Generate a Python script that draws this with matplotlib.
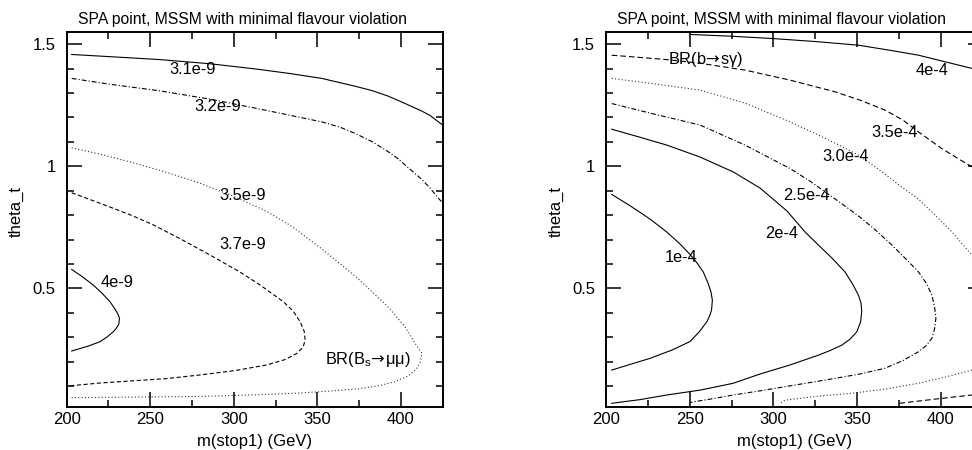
import numpy as np
import matplotlib
matplotlib.use('Agg')
import matplotlib.pyplot as plt
from matplotlib.ticker import MultipleLocator

plt.rcParams['font.family'] = ['Liberation Sans', 'DejaVu Sans']
plt.rcParams['mathtext.fontset'] = 'custom'
plt.rcParams['mathtext.rm'] = 'Liberation Sans'
plt.rcParams['lines.scale_dashes'] = False

# ---- BR(Bs -> mu mu) contours (m_stop1 [GeV], theta_t) ----
bs31_m = [203.0, 225.9, 255.9, 285.8, 313.8, 333.6, 352.7, 372.6, 382.8, 392.6, 402.6, 412.6, 417.5, 422.5, 425.1]
bs31_t = [1.458, 1.449, 1.437, 1.420, 1.398, 1.380, 1.360, 1.328, 1.310, 1.287, 1.257, 1.226, 1.208, 1.182, 1.169]

bs32_m = [203.0, 225.9, 255.9, 285.8, 313.8, 333.7, 352.7, 363.7, 372.6, 382.8, 392.6, 397.8,
          402.6, 407.4, 412.6, 417.5, 422.5, 425.1]
bs32_t = [1.360, 1.336, 1.309, 1.275, 1.237, 1.209, 1.182, 1.160, 1.135, 1.101, 1.059, 1.034,
          1.005, 0.977, 0.946, 0.911, 0.869, 0.850]

bs35_m = [203.0, 219.9, 239.7, 259.5, 279.8, 299.6, 319.3, 333.7, 352.9, 372.6, 392.4, 402.6, 408.0,
          412.6, 411.6, 409.2, 404.4, 396.6, 387.6, 375.6, 359.5, 339.7, 309.8, 279.8, 249.9, 203.0]
bs35_t = [1.076, 1.050, 1.015, 0.976, 0.931, 0.878, 0.817, 0.759, 0.661, 0.551, 0.424, 0.342, 0.281,
          0.234, 0.199, 0.170, 0.142, 0.119, 0.103, 0.090, 0.081, 0.072, 0.064, 0.058, 0.056, 0.053]

bs37_m = [203.0, 219.9, 237.9, 251.7, 267.8, 285.8, 303.8, 315.8, 329.6, 335.5, 339.7, 342.1, 342.7,
          341.5, 337.7, 330.7, 319.8, 300.8, 279.8, 259.5, 239.9, 219.9, 201.0]
bs37_t = [0.892, 0.849, 0.802, 0.761, 0.704, 0.637, 0.567, 0.514, 0.446, 0.408, 0.364, 0.326, 0.289,
          0.260, 0.234, 0.209, 0.187, 0.164, 0.146, 0.131, 0.122, 0.113, 0.101]

bs40_m = [203.0, 209.2, 215.9, 221.1, 225.9, 228.9, 230.7, 231.6, 231.2, 229.8, 227.9, 224.1, 219.9, 212.8, 203.0]
bs40_t = [0.578, 0.549, 0.514, 0.481, 0.446, 0.416, 0.395, 0.378, 0.354, 0.338, 0.323, 0.301, 0.282, 0.264, 0.244]

# ---- BR(b -> s gamma) contours ----
bsg40_m = [249.8, 274.1, 299.9, 324.9, 350.7, 369.7, 386.6, 402.5, 418.5, 425.0]
bsg40_t = [1.540, 1.533, 1.523, 1.511, 1.496, 1.475, 1.455, 1.428, 1.401, 1.386]

bsg35_m = [203.4, 236.3, 256.2, 283.0, 309.9, 336.8, 351.7, 366.7, 377.4, 386.6, 393.5, 400.5, 409.7, 418.5, 425.0]
bsg35_t = [1.455, 1.437, 1.422, 1.394, 1.353, 1.305, 1.271, 1.230, 1.189, 1.141, 1.107, 1.073, 1.034, 0.998, 0.970]
bsg35b_m = [375.2, 396.5, 418.5, 425.0]
bsg35b_t = [0.030, 0.047, 0.064, 0.068]

bsg30_m = [203.4, 226.3, 256.2, 283.0, 309.9, 326.8, 339.8, 350.7, 358.9, 366.7, 375.4, 386.6,
           398.5, 406.5, 418.5, 425.0]
bsg30_t = [1.360, 1.340, 1.312, 1.259, 1.182, 1.128, 1.085, 1.046, 1.007, 0.968, 0.921, 0.866,
           0.787, 0.732, 0.637, 0.580]
bsg30b_m = [304.5, 306.9, 327.8, 346.8, 366.7, 386.6, 402.5, 418.5, 425.0]
bsg30b_t = [0.032, 0.043, 0.060, 0.071, 0.088, 0.112, 0.137, 0.166, 0.180]

bsg25_m = [203.4, 226.3, 256.2, 283.0, 309.9, 321.9, 332.8, 342.8, 351.7, 361.3, 370.7, 379.2, 386.6,
           391.2, 394.6, 396.2, 397.0, 396.2, 394.6, 391.2, 386.6, 377.4, 366.4, 351.7, 336.8, 321.9,
           306.9, 292.0, 276.0, 262.1, 252.2, 249.8]
bsg25_t = [1.257, 1.218, 1.169, 1.087, 0.991, 0.939, 0.886, 0.837, 0.792, 0.737, 0.678, 0.620, 0.568,
           0.522, 0.473, 0.424, 0.378, 0.334, 0.296, 0.266, 0.241, 0.205, 0.173, 0.150, 0.132, 0.115,
           0.098, 0.081, 0.064, 0.047, 0.036, 0.032]

bsg20_m = [203.4, 220.3, 236.3, 256.2, 276.0, 292.0, 308.1, 318.9, 326.8, 335.0, 342.8, 347.6, 350.7,
           352.3, 352.7, 352.0, 349.8, 345.8, 340.8, 333.8, 326.8, 309.9, 292.0, 276.0, 256.2, 236.3,
           220.3, 203.4]
bsg20_t = [1.152, 1.119, 1.087, 1.038, 0.977, 0.911, 0.817, 0.731, 0.678, 0.624, 0.567, 0.514, 0.473,
           0.440, 0.405, 0.363, 0.323, 0.293, 0.268, 0.246, 0.227, 0.187, 0.150, 0.112, 0.084, 0.064,
           0.045, 0.030]

bsg10_m = [203.4, 214.3, 226.3, 236.3, 244.2, 250.2, 254.4, 258.1, 260.9, 262.7, 263.5, 263.0, 261.8,
           260.2, 255.6, 250.2, 239.4, 226.3, 214.3, 203.4]
bsg10_t = [0.885, 0.839, 0.784, 0.731, 0.682, 0.639, 0.604, 0.567, 0.522, 0.485, 0.452, 0.411, 0.387,
           0.364, 0.322, 0.283, 0.248, 0.214, 0.189, 0.166]

title = 'SPA point, MSSM with minimal flavour violation'

SOLID = '-'
DOTTED = (0, (0.8, 1.6))
DASHED = (0, (3.0, 1.8))
LDASHED = (0, (4.0, 2.2))
DASHDOT = (0, (3.5, 1.5, 0.8, 1.5))

fig = plt.figure(figsize=(9.72, 4.5), dpi=100)
ax1 = fig.add_axes([0.0686, 0.0962, 0.3868, 0.8327])
ax2 = fig.add_axes([0.6235, 0.0962, 0.3876, 0.8327])


def style(ax):
    ax.set_xlim(200, 425)
    ax.set_ylim(0.016, 1.55)
    ax.xaxis.set_major_locator(MultipleLocator(50))
    ax.xaxis.set_minor_locator(MultipleLocator(25))
    ax.yaxis.set_minor_locator(MultipleLocator(0.1))
    ax.set_yticks([0.5, 1.0, 1.5])
    ax.set_yticklabels(['0.5', '1', '1.5'])
    ax.tick_params(which='both', direction='in', top=True, right=True, width=1.1, labelsize=12)
    ax.tick_params(which='major', length=10.5)
    ax.tick_params(which='minor', length=5)
    ax.tick_params(axis='x', pad=4.0)
    ax.tick_params(axis='y', pad=8.0)
    for s in ax.spines.values():
        s.set_linewidth(1.4)
    ax.set_xlabel('m(stop1) (GeV)', fontsize=12, labelpad=4.5)
    ax.set_ylabel('theta_t', fontsize=12)
    ax.yaxis.set_label_coords(-0.113, 0.52)
    ax.set_title(title, fontsize=11.3, x=0.467, pad=6)


style(ax1)
style(ax2)

lw = 0.8
ax1.plot(bs31_m, bs31_t, color='k', lw=lw, linestyle=SOLID)
ax1.plot(bs32_m, bs32_t, color='k', lw=lw, linestyle=DASHDOT)
ax1.plot(bs35_m, bs35_t, color='#333333', lw=lw, linestyle=DOTTED)
ax1.plot(bs37_m, bs37_t, color='k', lw=lw, linestyle=DASHED)
ax1.plot(bs40_m, bs40_t, color='k', lw=lw, linestyle=SOLID)

fs = 11.8
arrow = r'$\!\rightarrow\!$'
ax1.text(275.3, 1.396, '3.1e-9', fontsize=fs, ha='center', va='center')
ax1.text(290.6, 1.243, '3.2e-9', fontsize=fs, ha='center', va='center')
ax1.text(305.1, 0.882, '3.5e-9', fontsize=fs, ha='center', va='center')
ax1.text(305.1, 0.681, '3.7e-9', fontsize=fs, ha='center', va='center')
ax1.text(229.9, 0.525, '4e-9', fontsize=fs, ha='center', va='center')
ax1.text(380.1, 0.210, r'BR(B$_\mathregular{s}$' + arrow + 'μμ)', fontsize=fs,
         ha='center', va='center', math_fontfamily='dejavusans')

ax2.plot(bsg40_m, bsg40_t, color='k', lw=lw, linestyle=SOLID)
ax2.plot(bsg35_m, bsg35_t, color='k', lw=lw, linestyle=LDASHED)
ax2.plot(bsg35b_m, bsg35b_t, color='k', lw=lw, linestyle=LDASHED)
ax2.plot(bsg30_m, bsg30_t, color='#333333', lw=lw, linestyle=DOTTED)
ax2.plot(bsg30b_m, bsg30b_t, color='#333333', lw=lw, linestyle=DOTTED)
ax2.plot(bsg25_m, bsg25_t, color='k', lw=lw, linestyle=DASHDOT)
ax2.plot(bsg20_m, bsg20_t, color='k', lw=lw, linestyle=SOLID)
ax2.plot(bsg10_m, bsg10_t, color='k', lw=lw, linestyle=SOLID)

ax2.text(259.6, 1.438, 'BR(b' + arrow + 'sγ)', fontsize=fs, ha='center', va='center',
         math_fontfamily='dejavusans')
ax2.text(394.6, 1.394, '4e-4', fontsize=fs, ha='center', va='center')
ax2.text(372.2, 1.140, '3.5e-4', fontsize=fs, ha='center', va='center')
ax2.text(342.8, 1.039, '3.0e-4', fontsize=fs, ha='center', va='center')
ax2.text(319.8, 0.882, '2.5e-4', fontsize=fs, ha='center', va='center')
ax2.text(305.0, 0.725, '2e-4', fontsize=fs, ha='center', va='center')
ax2.text(244.8, 0.626, '1e-4', fontsize=fs, ha='center', va='center')

fig.savefig('out.png', dpi=100)
